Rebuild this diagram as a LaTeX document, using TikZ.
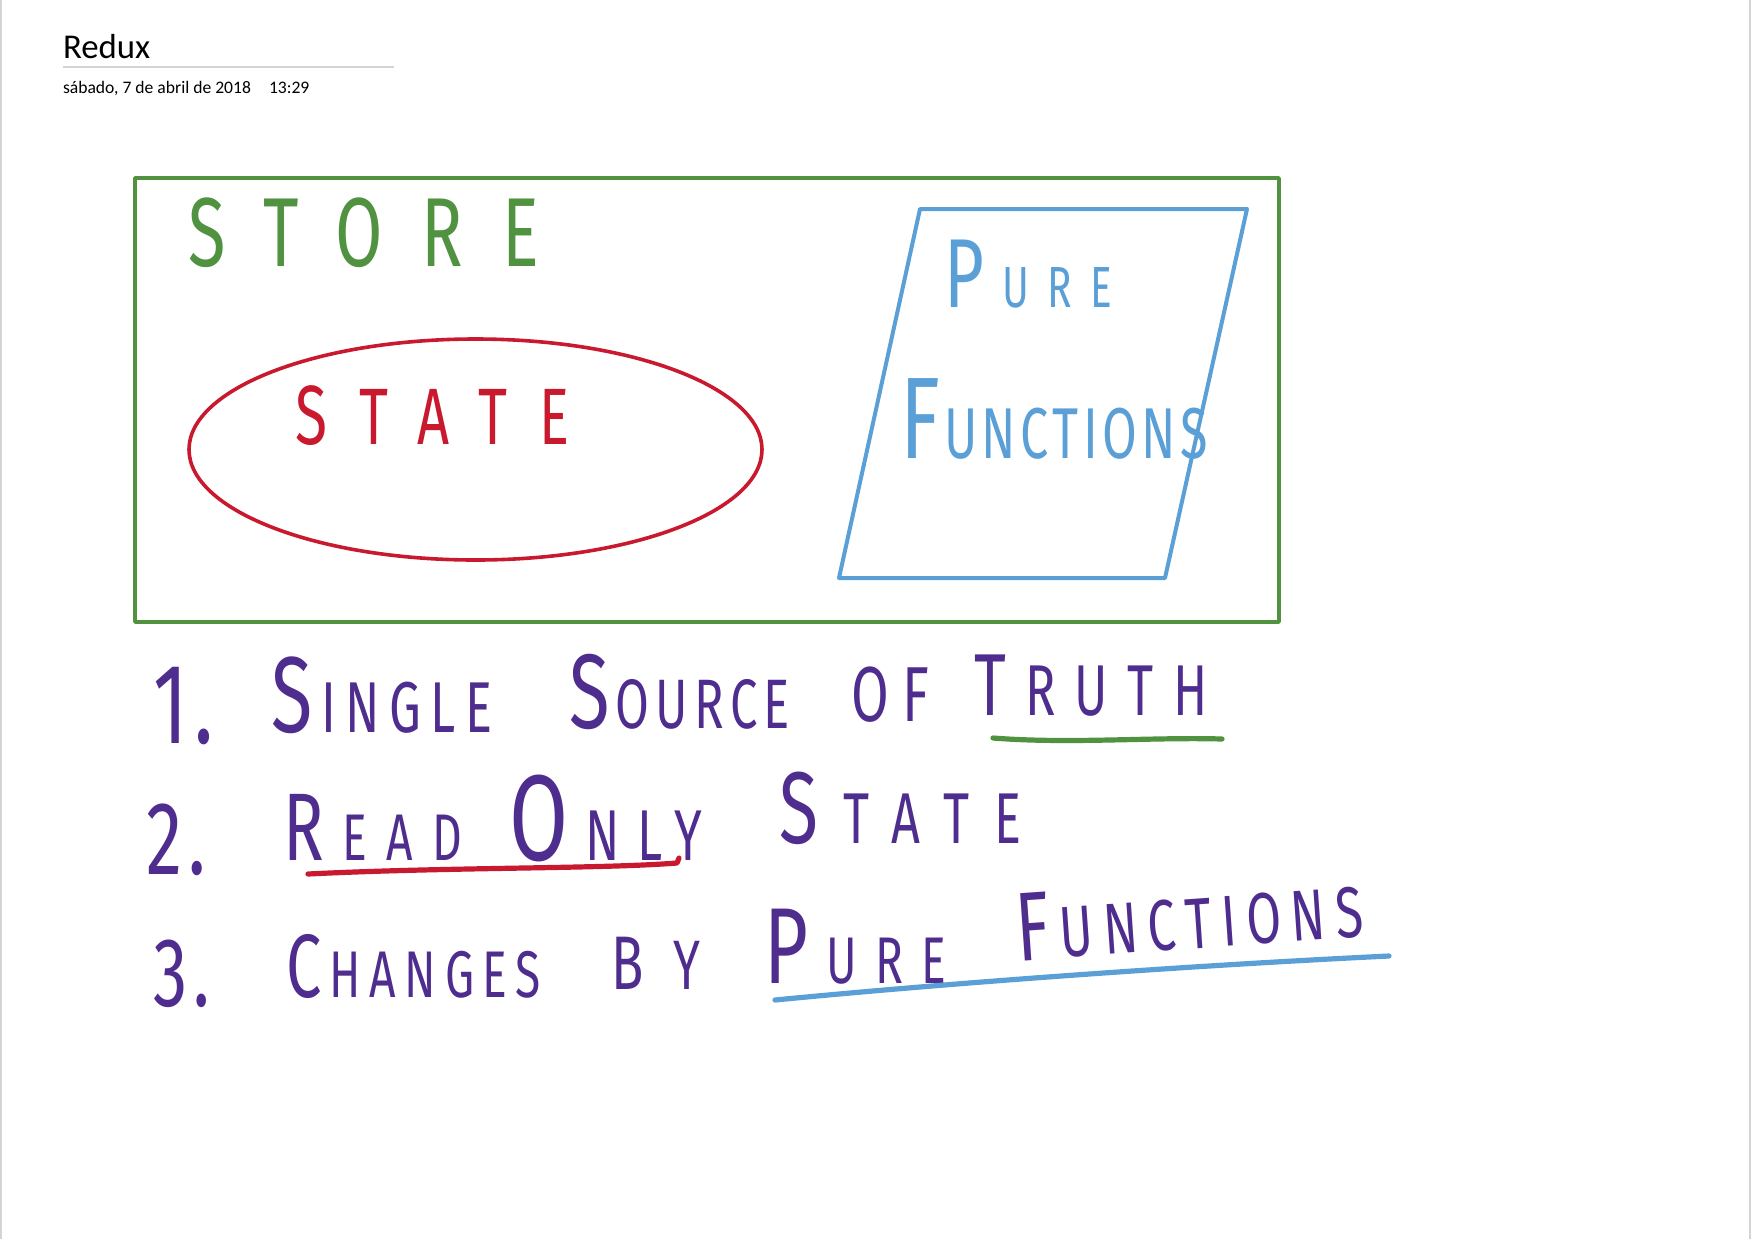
\documentclass[tikz,border=0pt]{standalone}
\usepackage{fontspec}
\setmainfont{Carlito}
\newfontfamily\handfont[FakeStretch=0.7,LetterSpace=6]{Fira Sans}
\usetikzlibrary{positioning}
\definecolor{storegreen}{HTML}{50923F}
\definecolor{statered}{HTML}{C8192E}
\definecolor{pureblue}{HTML}{5B9FD7}
\definecolor{listpurple}{HTML}{4F2D8E}
\definecolor{pagegray}{HTML}{D4D4D4}
% first letter big, rest small (sizes in pt), same tracking after the big one
\def\hwtrack{6}
\newcommand\hw[4]{{\fontsize{#1}{#1}\selectfont #3}\kern\dimexpr #2pt*\hwtrack/100\relax{\fontsize{#2}{#2}\selectfont #4}}

\begin{document}
\begin{tikzpicture}[
  x=0.5pt, y=-0.5pt,
  every node/.style={inner sep=0pt, outer sep=0pt, anchor=base west},
  pen/.style={line width=#1, line cap=round, line join=round},
  hand/.style={font=\handfont, text=#1},
  track/.style={font=\handfont\addfontfeature{LetterSpace=#1}\def\hwtrack{#1}},
]
  \useasboundingbox (0,0) rectangle (1752,1239);
  \draw[pagegray, line width=1pt] (1,0) -- (1,1239);
  \draw[pagegray, line width=1pt] (1750,0) -- (1750,1239);

  % Header
  \node[font=\fontsize{17.4}{17.4}\selectfont] (title) at (63,58) {Redux};
  \draw[pagegray, line width=0.6pt] (63,67) -- (394,67);
  \node[font=\fontsize{8.8}{8.8}\selectfont] (date) at (63,93) {sábado, 7 de abril de 2018};
  \node[font=\fontsize{8.8}{8.8}\selectfont] (time) at (269,93) {13:29};

  % Store
  \draw[storegreen, pen=1.8pt] (135,178) rectangle (1279,622);
  \node[hand=storegreen, track=40] (store) at (188,266) {\fontsize{49}{49}\selectfont STORE};

  % State
  \draw[statered, pen=1.8pt] (475.5,449.5) ellipse [x radius=286.5, y radius=110.5];
  \node[hand=statered, track=40] (state) at (295,444) {\hw{42}{40}{S}{TATE}};

  % Pure functions
  \draw[pureblue, pen=2pt] (920,209) -- (1247,209) -- (1165,578) -- (839,578) -- cycle;
  \node[hand=pureblue, track=32] (pure) at (944,307) {\hw{49}{29}{P}{URE}};
  \node[hand=pureblue] (functions) at (900,458) {\hw{58}{36}{F}{UNCTIONS}};

  % 1.
  \node[hand=listpurple] (one) at (153,743) {\fontsize{57}{57}\selectfont 1.};
  \node[hand=listpurple, track=13] (single) at (271,732) {\hw{54}{36}{S}{INGLE}};
  \node[hand=listpurple, track=9] (source) at (569,728) {\hw{53}{35}{S}{OURCE}};
  \node[hand=listpurple, track=18] (of) at (851,721) {\fontsize{39}{39}\selectfont OF};
  \node[hand=listpurple, track=27] (truth) at (974,715) {\hw{44}{36}{T}{RUTH}};
  \draw[storegreen, pen=2.6pt] (993,738) .. controls (1070,744) and (1150,737) .. (1222,739);

  % 2.
  \node[hand=listpurple] (two) at (146,874) {\fontsize{52}{52}\selectfont 2.};
  \node[hand=listpurple, track=29] (read) at (283,860) {\hw{48}{33}{R}{EAD}};
  \node[hand=listpurple, track=24] (only) at (509,860) {\hw{61}{36}{O}{NLY}};
  \node[hand=listpurple, track=35] (state2) at (779,843) {\hw{51}{36}{S}{TATE}};
  \draw[statered, pen=2.6pt] (308,874) .. controls (450,867) and (600,869) .. (677,863) -- (679,858);

  % 3.
  \node[hand=listpurple] (three) at (153,1006) {\fontsize{49}{49}\selectfont 3.};
  \node[hand=listpurple, track=13] (changes) at (286,997) {\hw{45}{33}{C}{HANGES}};
  \node[hand=listpurple, track=43] (by) at (611,989) {\hw{38}{35}{B}{Y}};
  \node[hand=listpurple, track=28] (pure2) at (764,983) {\hw{54}{33}{P}{URE}};
  \node[hand=listpurple, track=14, rotate=4] (functions2) at (1018,961) {\hw{49}{36}{F}{UNCTIONS}};
  \draw[pureblue, pen=2.6pt] (775,1000) .. controls (960,982) and (1200,965) .. (1389,956);
\end{tikzpicture}
\end{document}
